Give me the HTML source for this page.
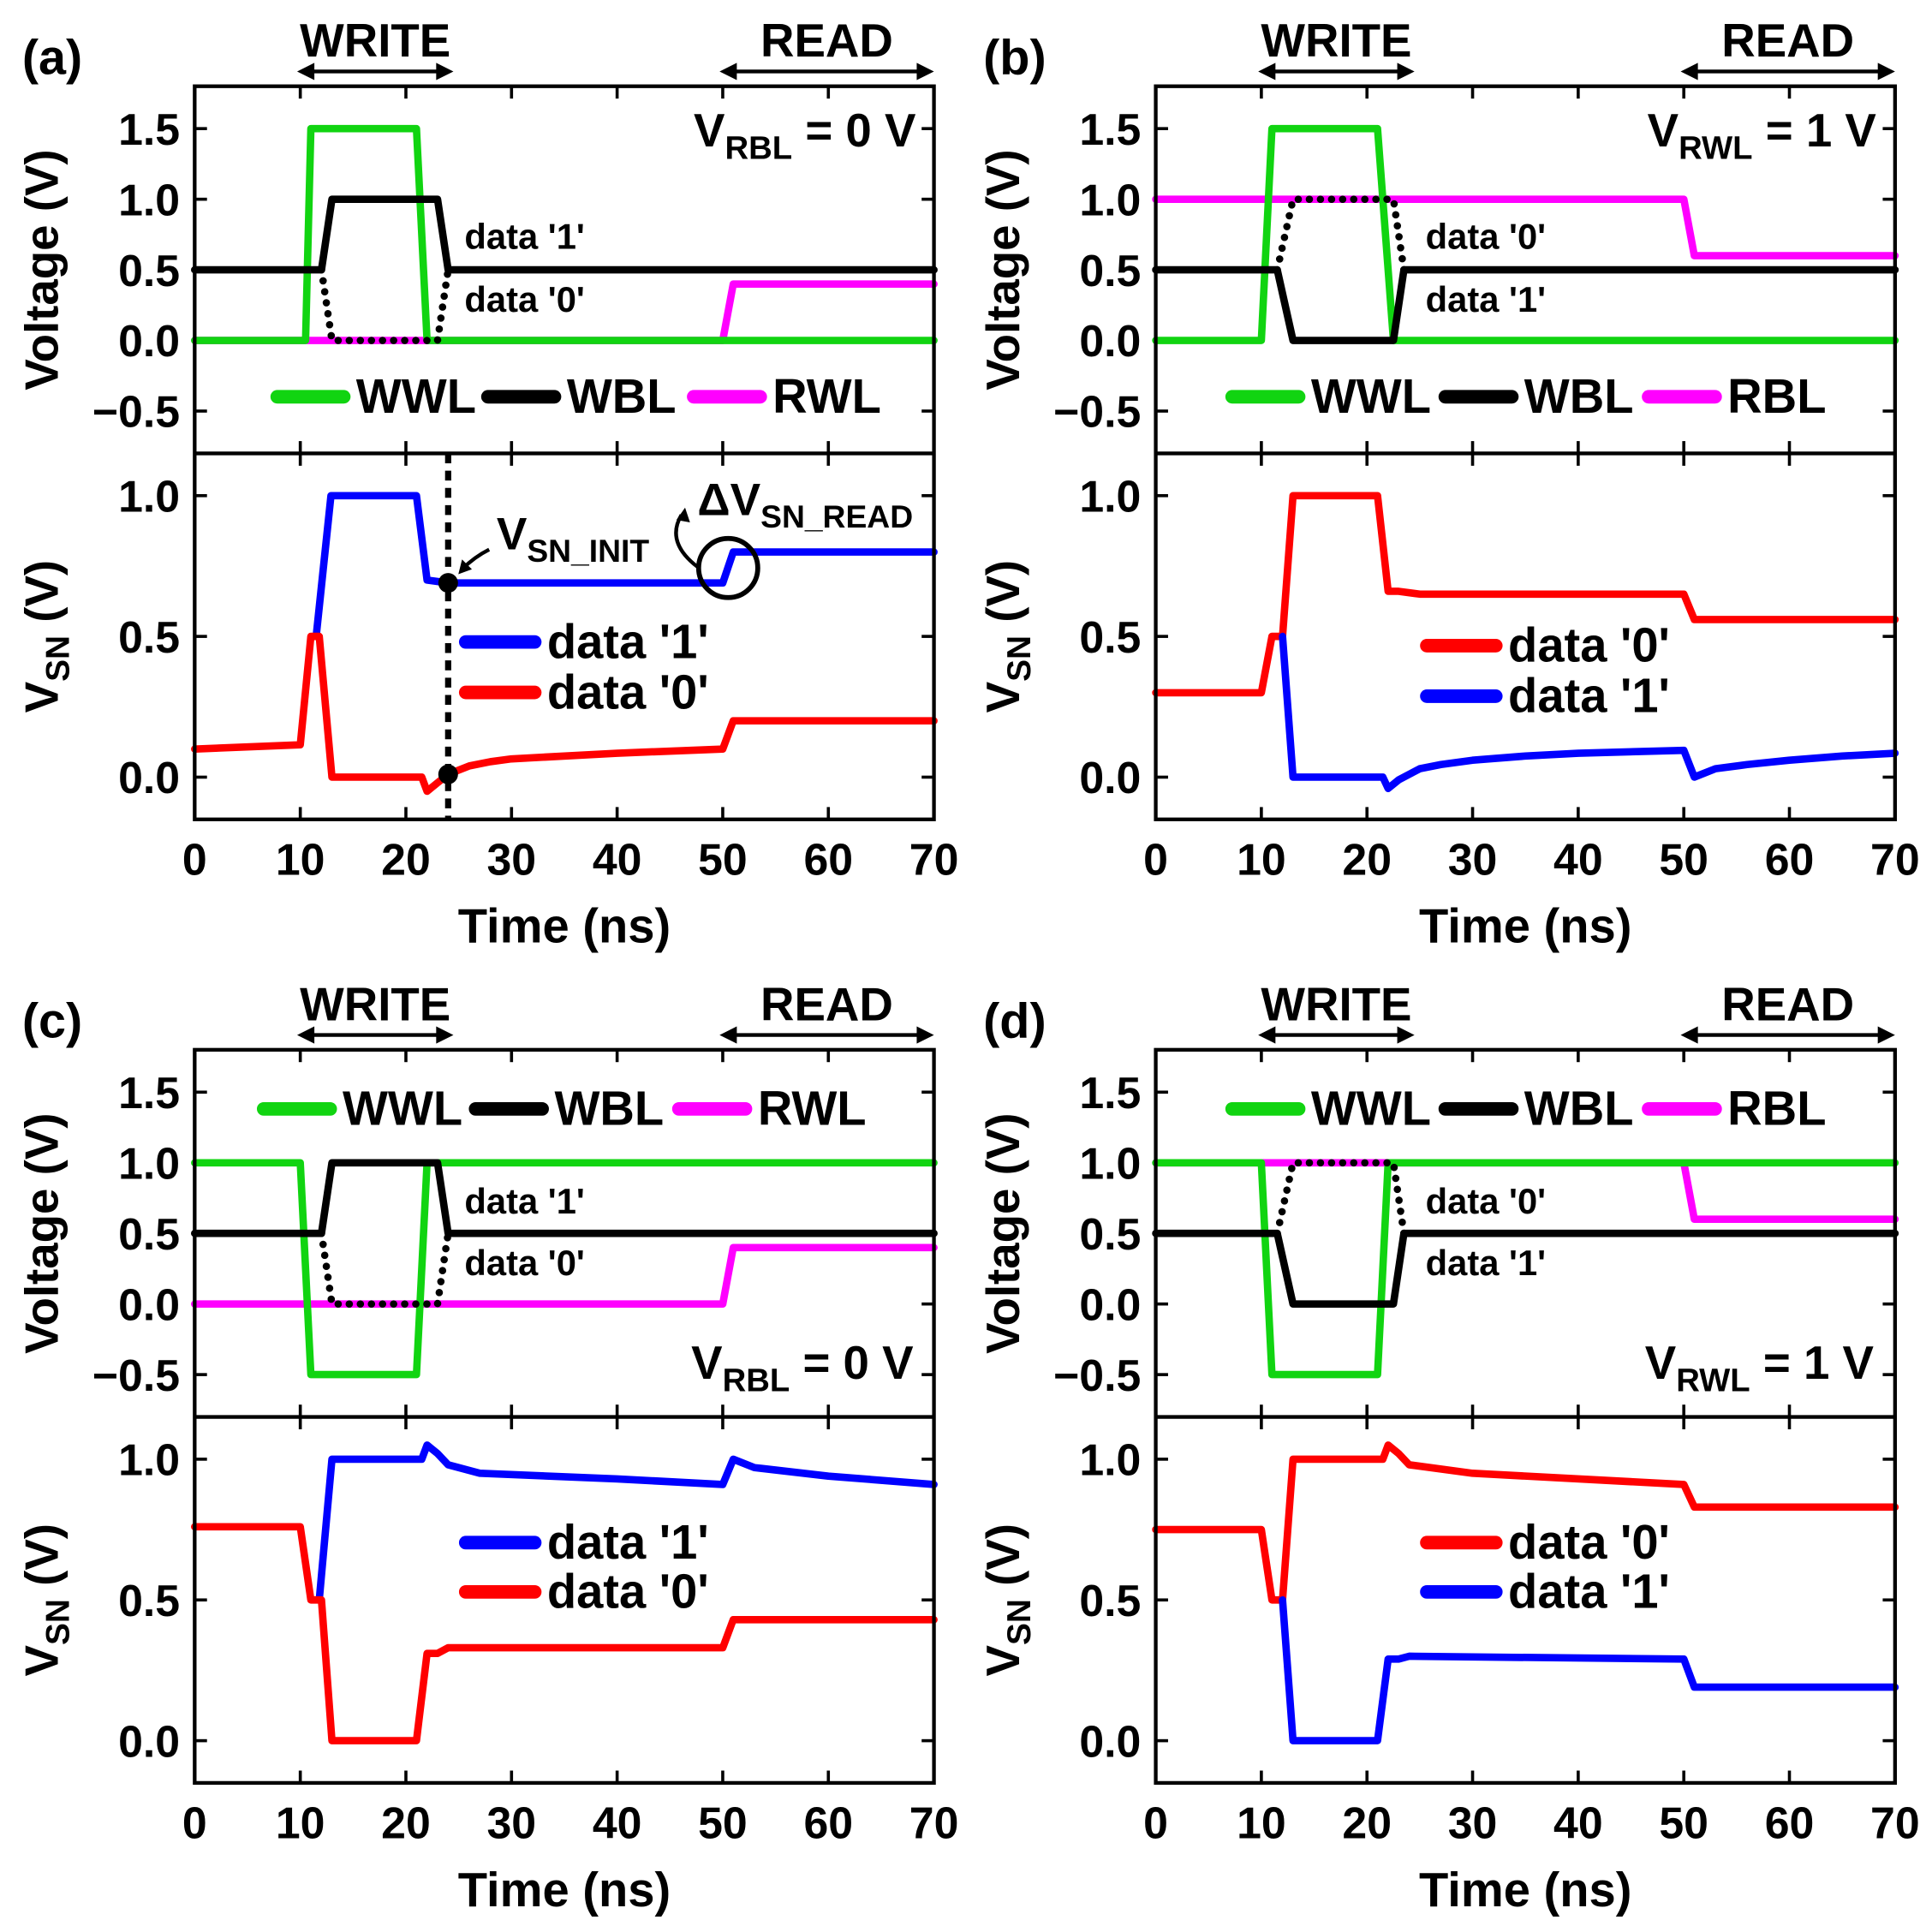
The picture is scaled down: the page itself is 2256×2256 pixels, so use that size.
<!DOCTYPE html>
<html><head><meta charset="utf-8"><style>
html,body{margin:0;padding:0;background:#fff}
svg{display:block}
text{font-family:"Liberation Sans",Arial,sans-serif;font-weight:bold;fill:#000}
</style></head><body>
<svg id="fig" width="2256" height="2256" viewBox="0 0 1568 1568" xmlns="http://www.w3.org/2000/svg"></svg>
<script>
// ---- data ----
const xTicks=[0,10,20,30,40,50,60,70];
const vTicks=[-0.5,0,0.5,1.0,1.5];
const vTickLabels=["\u22120.5","0.0","0.5","1.0","1.5"];
const snTicks=[0,0.5,1.0];
const snTickLabels=["0.0","0.5","1.0"];

const aWWL=[[0,0],[10.5,0],[11,1.5],[21,1.5],[22,0],[70,0]];
const aWBL=[[0,0.5],[12,0.5],[13,1.0],[23,1.0],[24,0.5],[70,0.5]];
const aWBLdot=[[12,0.5],[13,0],[23,0],[24,0.5]];
const aRWL=[[0,0],[50,0],[51,0.4],[70,0.4]];
const aSN1=[[11.5,0.5],[12.9,1.0],[21,1.0],[22,0.7],[24,0.69],[50,0.69],[51,0.8],[70,0.8]];
const aSN0=[[0,0.1],[10,0.115],[11,0.5],[11.8,0.5],[13,0],[21.5,0],[22,-0.05],[23,-0.02],[24,0.01],[26,0.04],[28,0.055],[30,0.065],[40,0.085],[50,0.1],[51,0.2],[70,0.2]];

const bWWL=[[0,0],[10,0],[11,1.5],[21,1.5],[22.5,0],[70,0]];
const bWBL=[[0,0.5],[11.5,0.5],[13,0],[22.5,0],[23.5,0.5],[70,0.5]];
const bWBLdot=[[11.5,0.5],[13,1],[22.5,1],[23.5,0.5]];
const bRBL=[[0,1],[50,1],[51,0.6],[70,0.6]];
const bSN0=[[0,0.3],[10,0.3],[11,0.5],[12,0.5],[13,1],[21,1],[22,0.66],[23,0.66],[25,0.65],[50,0.65],[51,0.56],[70,0.56]];
const bSN1=[[12,0.5],[13,0],[21.5,0],[22,-0.04],[23,-0.01],[25,0.03],[27,0.045],[30,0.06],[35,0.075],[40,0.085],[50,0.095],[51,0],[53,0.03],[56,0.045],[60,0.06],[65,0.075],[70,0.085]];

const cWWL=[[0,1],[10,1],[11,-0.5],[21,-0.5],[22,1],[70,1]];
const cWBL=[[0,0.5],[12,0.5],[13,1.0],[23,1.0],[24,0.5],[70,0.5]];
const cWBLdot=[[12,0.5],[13,0],[23,0],[24,0.5]];
const cRWL=[[0,0],[50,0],[51,0.4],[70,0.4]];
const cSN1=[[11.8,0.5],[13,1],[21.5,1],[22,1.05],[23,1.02],[24,0.98],[27,0.95],[40,0.93],[50,0.91],[51,1.0],[53,0.97],[60,0.94],[70,0.91]];
const cSN0=[[0,0.76],[10,0.76],[11,0.5],[12,0.5],[13,0],[21,0],[22,0.31],[23,0.31],[24,0.33],[50,0.33],[51,0.43],[70,0.43]];

const dWWL=[[0,1],[10,1],[11,-0.5],[21,-0.5],[22,1],[70,1]];
const dWBL=[[0,0.5],[11.5,0.5],[13,0],[22.5,0],[23.5,0.5],[70,0.5]];
const dWBLdot=[[11.5,0.5],[13,1],[22.5,1],[23.5,0.5]];
const dRBL=[[0,1],[50,1],[51,0.6],[70,0.6]];
const dSN0=[[0,0.75],[10,0.75],[11,0.5],[12,0.5],[13,1],[21.5,1],[22,1.05],[23,1.02],[24,0.98],[30,0.95],[50,0.91],[51,0.83],[70,0.83]];
const dSN1=[[12,0.5],[13,0],[21,0],[22,0.29],[23,0.29],[24,0.3],[50,0.29],[51,0.19],[70,0.19]];

// ---- drawing ----
const NS="http://www.w3.org/2000/svg";
const svg=document.getElementById('fig');
function el(tag,attrs,parent,txt){const e=document.createElementNS(NS,tag);for(const k in attrs)e.setAttribute(k,attrs[k]);if(txt!==undefined)e.textContent=txt;(parent||svg).appendChild(e);return e;}
const GREEN="#11d411",PINK="#ff00ff",BLUE="#0000ff",RED="#ff0000";

function panel(ox,oy,letter){
  const g=el('g',{});
  
  
  const L=158+ox,R=758+ox,T=70+oy,M=368+oy,B=665+oy;
  const X=t=>L+(R-L)*t/70;
  const VY=v=>T+(1.8-v)*(M-T)/2.6;
  const SY=v=>M+(1.15-v)*(B-M)/1.3;
  return {g,L,R,T,M,B,X,VY,SY,ox,oy,letter};
}
function line(p,pts,ymap,color,name,dot){
  const d=pts.map((q,i)=>(i?'L':'M')+p.X(q[0]).toFixed(1)+','+ymap(q[1]).toFixed(1)).join('');
  const e=el('path',{d,fill:'none',stroke:color,'stroke-width':dot?6:6,'stroke-linejoin':'round','stroke-linecap':'round'},p.g);
  if(dot)e.setAttribute('stroke-dasharray','0 9');
  
  
}
function axes(p){
  const g=p.g;
  const t=el('text',{x:p.ox+18,y:p.oy+60,'font-size':40},g,'('+p.letter+')');
  
  function span(x1,x2,label,nm){
    const a=el('text',{x:(x1+x2)/2,y:p.oy+46,'font-size':38,'text-anchor':'middle'},g,label);
    
    el('line',{x1:x1+4,y1:p.oy+58,x2:x2-4,y2:p.oy+58,stroke:'#000','stroke-width':3},g);
    el('path',{d:`M${x1},${p.oy+58}l14,-7v14z M${x2},${p.oy+58}l-14,-7v14z`,fill:'#000'},g);
  }
  span(p.X(9.7),p.X(24.5),'WRITE','write');
  span(p.X(49.7),p.R,'READ','read');
  xTicks.forEach(v=>{const x=p.X(v);
    [[p.T,1],[p.M,-1],[p.M,1],[p.B,-1]].forEach(([y,s])=>el('line',{x1:x,y1:y,x2:x,y2:y+s*10,stroke:'#000','stroke-width':2.5},g));
    const tl=el('text',{x:x,y:p.B+45,'font-size':36,'text-anchor':'middle'},g,String(v));
    
  });
  vTicks.forEach((v,i)=>{const y=p.VY(v);
    el('line',{x1:p.L,y1:y,x2:p.L+10,y2:y,stroke:'#000','stroke-width':2.5},g);
    el('line',{x1:p.R,y1:y,x2:p.R-10,y2:y,stroke:'#000','stroke-width':2.5},g);
    const tl=el('text',{x:p.L-12,y:y+13,'font-size':36,'text-anchor':'end'},g,vTickLabels[i]);
    
  });
  snTicks.forEach((v,i)=>{const y=p.SY(v);
    el('line',{x1:p.L,y1:y,x2:p.L+10,y2:y,stroke:'#000','stroke-width':2.5},g);
    el('line',{x1:p.R,y1:y,x2:p.R-10,y2:y,stroke:'#000','stroke-width':2.5},g);
    const tl=el('text',{x:p.L-12,y:y+13,'font-size':36,'text-anchor':'end'},g,snTickLabels[i]);
    
  });
  const xt=el('text',{x:(p.L+p.R)/2,y:p.B+100,'font-size':39,'text-anchor':'middle'},g,'Time (ns)');
  
  const yt=el('text',{transform:`translate(${p.ox+47},${(p.T+p.M)/2}) rotate(-90)`,'font-size':38,'text-anchor':'middle'},g,'Voltage (V)');
  
  const st=el('text',{transform:`translate(${p.ox+47},${(p.M+p.B)/2}) rotate(-90)`,'font-size':38,'text-anchor':'middle'},g);
  
  el('tspan',{},st,'V');el('tspan',{'font-size':27,dy:9},st,'SN');el('tspan',{dy:-9},st,' (V)');
}
function frame(p){
  el('rect',{x:p.L,y:p.T,width:p.R-p.L,height:p.B-p.T,fill:'none',stroke:'#000','stroke-width':3},p.g);
  el('line',{x1:p.L,y1:p.M,x2:p.R,y2:p.M,stroke:'#000','stroke-width':3},p.g);
}
function txt(p,x,y,s,fs,name,anchor){const t=el('text',{x,y,'font-size':fs,'text-anchor':anchor||'start'},p.g,s);return t;}
function legend(p,x,y,color,label,name,len,fs){
  const g=el('g',{},p.g);
  
  el('line',{x1:x,y1:y,x2:x+len,y2:y,stroke:color,'stroke-width':11,'stroke-linecap':'round'},g);
  el('text',{x:x+len+10,y:y+13,'font-size':fs},g,label);
}
function sub(p,x,y,main,subs,rest,fs,name){
  const t=el('text',{x,y,'font-size':fs},p.g);
  
  el('tspan',{},t,main);el('tspan',{'font-size':fs*0.7,dy:10},t,subs);
  if(rest)el('tspan',{dy:-10},t,rest);
}

// panel a
let p=panel(0,0,'a');axes(p);
line(p,aRWL,p.VY,PINK,'rwl-line');line(p,aWWL,p.VY,GREEN,'wwl-line');
line(p,aWBLdot,p.VY,'#000','wbl-data0-dotted',true);line(p,aWBL,p.VY,'#000','wbl-line');
line(p,aSN1,p.SY,BLUE,'vsn-data1-line');line(p,aSN0,p.SY,RED,'vsn-data0-line');
txt(p,377,202,"data '1'",29,'wbl-data1-label');txt(p,377,253,"data '0'",29,'wbl-data0-label');
sub(p,563,119,'V','RBL',' = 0 V',38,'vrbl-annotation');
legend(p,225,322,GREEN,'WWL','legend-wwl',54,39);legend(p,396,322,'#000','WBL','legend-wbl',54,39);legend(p,563,322,PINK,'RWL','legend-rwl',54,39);
legend(p,378,521,BLUE,"data '1'",'legend-data1',56,39);legend(p,378,562,RED,"data '0'",'legend-data0',56,39);
el('line',{x1:p.X(24),y1:p.M,x2:p.X(24),y2:p.B,stroke:'#000','stroke-width':5,'stroke-dasharray':'8 6'},p.g);
el('circle',{cx:p.X(24),cy:p.SY(0.69),r:8,fill:'#000'},p.g);
el('circle',{cx:p.X(24),cy:p.SY(0.01),r:8,fill:'#000'},p.g);
el('circle',{cx:591,cy:461,r:24,fill:'none',stroke:'#000','stroke-width':4},p.g);
el('path',{d:'M397,446 Q385,452 375,462',fill:'none',stroke:'#000','stroke-width':3},p.g);
el('path',{d:'M372,466 l3,-12 l8,8z',fill:'#000'},p.g);
el('path',{d:'M566,460 Q540,440 553,418',fill:'none',stroke:'#000','stroke-width':3},p.g);
el('path',{d:'M556,412 l4,12 l-11,-2z',fill:'#000'},p.g);
sub(p,403,446,'V','SN_INIT','',37,'vsn-init-annotation');
sub(p,566,418,'\u0394V','SN_READ','',37,'delta-vsn-read-annotation');
frame(p);

// panel b
p=panel(780,0,'b');axes(p);
line(p,bRBL,p.VY,PINK,'rbl-line');line(p,bWWL,p.VY,GREEN,'wwl-line');
line(p,bWBLdot,p.VY,'#000','wbl-data0-dotted',true);line(p,bWBL,p.VY,'#000','wbl-line');
line(p,bSN0,p.SY,RED,'vsn-data0-line');line(p,bSN1,p.SY,BLUE,'vsn-data1-line');
txt(p,1157,202,"data '0'",29,'wbl-data0-label');txt(p,1157,253,"data '1'",29,'wbl-data1-label');
sub(p,1337,119,'V','RWL',' = 1 V',38,'vrwl-annotation');
legend(p,1000,322,GREEN,'WWL','legend-wwl',54,39);legend(p,1173,322,'#000','WBL','legend-wbl',54,39);legend(p,1338,322,PINK,'RBL','legend-rbl',54,39);
legend(p,1158,524,RED,"data '0'",'legend-data0',56,39);legend(p,1158,565,BLUE,"data '1'",'legend-data1',56,39);
frame(p);

// panel c
p=panel(0,782,'c');axes(p);
line(p,cRWL,p.VY,PINK,'rwl-line');line(p,cWWL,p.VY,GREEN,'wwl-line');
line(p,cWBLdot,p.VY,'#000','wbl-data0-dotted',true);line(p,cWBL,p.VY,'#000','wbl-line');
line(p,cSN1,p.SY,BLUE,'vsn-data1-line');line(p,cSN0,p.SY,RED,'vsn-data0-line');
txt(p,377,985,"data '1'",29,'wbl-data1-label');txt(p,377,1035,"data '0'",29,'wbl-data0-label');
sub(p,561,1119,'V','RBL',' = 0 V',38,'vrbl-annotation');
legend(p,214,900,GREEN,'WWL','legend-wwl',54,39);legend(p,386,900,'#000','WBL','legend-wbl',54,39);legend(p,551,900,PINK,'RWL','legend-rwl',54,39);
legend(p,378,1252,BLUE,"data '1'",'legend-data1',56,39);legend(p,378,1292,RED,"data '0'",'legend-data0',56,39);
frame(p);

// panel d
p=panel(780,782,'d');axes(p);
line(p,dRBL,p.VY,PINK,'rbl-line');line(p,dWWL,p.VY,GREEN,'wwl-line');
line(p,dWBLdot,p.VY,'#000','wbl-data0-dotted',true);line(p,dWBL,p.VY,'#000','wbl-line');
line(p,dSN0,p.SY,RED,'vsn-data0-line');line(p,dSN1,p.SY,BLUE,'vsn-data1-line');
txt(p,1157,985,"data '0'",29,'wbl-data0-label');txt(p,1157,1035,"data '1'",29,'wbl-data1-label');
sub(p,1335,1119,'V','RWL',' = 1 V',38,'vrwl-annotation');
legend(p,1000,900,GREEN,'WWL','legend-wwl',54,39);legend(p,1173,900,'#000','WBL','legend-wbl',54,39);legend(p,1338,900,PINK,'RBL','legend-rbl',54,39);
legend(p,1158,1252,RED,"data '0'",'legend-data0',56,39);legend(p,1158,1292,BLUE,"data '1'",'legend-data1',56,39);
frame(p);
</script>
</body></html>
